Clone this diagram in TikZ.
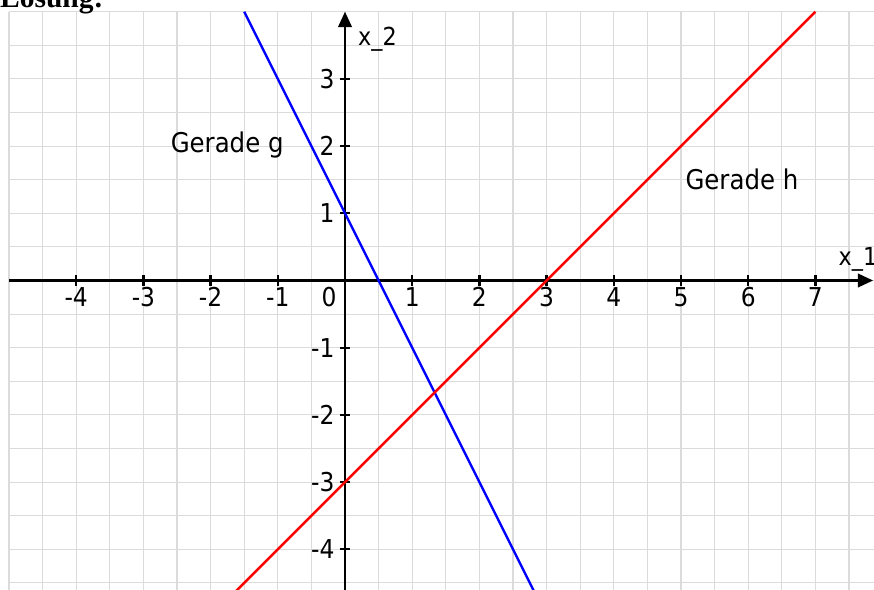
\documentclass[tikz,border=0pt]{standalone}
\usepackage{fontspec}
\setmainfont{DejaVu Sans Condensed}
\newfontfamily\headfont{Liberation Serif}
\usetikzlibrary{arrows.meta}

\begin{document}
\begin{tikzpicture}[font=\fontsize{11}{13}\selectfont, >={Triangle[length=2.3mm, width=2mm]},
  raster/.style={draw=black!14, line width=0.45pt},
  achse/.style={->, line width=1.2pt},
  marke/.style={line width=1pt},
  gerade/.style={line width=1pt},
  lbl/.style={font=\fontsize{11.5}{14}\selectfont, anchor=base west, inner sep=0pt}]
  \useasboundingbox (-5.134,-4.591) rectangle (7.872,4.174);
  \fill[white] (-5.134,-4.591) rectangle (7.872,4.174);
  \draw[raster] (-5,-4.8) grid[step=0.5] (7.872,4);
  \draw[achse] (-5,0) -- (7.86,0);
  \draw[achse] (0,-4.8) -- (0,4);
  \foreach \x in {-4,...,-1,1,2,...,7} {
    \draw[marke] (\x,-0.075) -- (\x,0.075);
    \node[below, inner sep=0.04cm] (tx\x) at (\x,-0.06) {\x};
  }
  \foreach \y in {-4,...,-1,1,2,3} {
    \draw[marke] (-0.075,\y) -- (0.075,\y);
    \node[left, inner sep=0.04cm] (ty\y) at (-0.11,\y) {\y};
  }
  \node[anchor=north east, inner sep=0.04cm] (null) at (-0.08,-0.06) {0};
  \draw[gerade, blue] (-1.5,4) -- (2.9,-4.8);
  \draw[gerade, red] (7,4) -- (-1.8,-4.8);
  \node[anchor=base west, inner sep=0pt, font=\fontsize{10.5}{13}\selectfont] (xzwei) at (0.19,3.5) {x\_2};
  \node[anchor=base west, inner sep=0pt, font=\fontsize{10.5}{13}\selectfont] (xeins) at (7.34,0.23) {x\_1};
  \node[lbl] (g) at (-2.60,1.90) {Gerade g};
  \node[lbl] (h) at (5.06,1.35) {Gerade h};
  \node[anchor=base west, inner sep=0pt, font={\headfont\fontsize{12.5}{15}\selectfont\bfseries}] (kopf) at (-5.14,4.06) {Lösung:};
\end{tikzpicture}
\end{document}
